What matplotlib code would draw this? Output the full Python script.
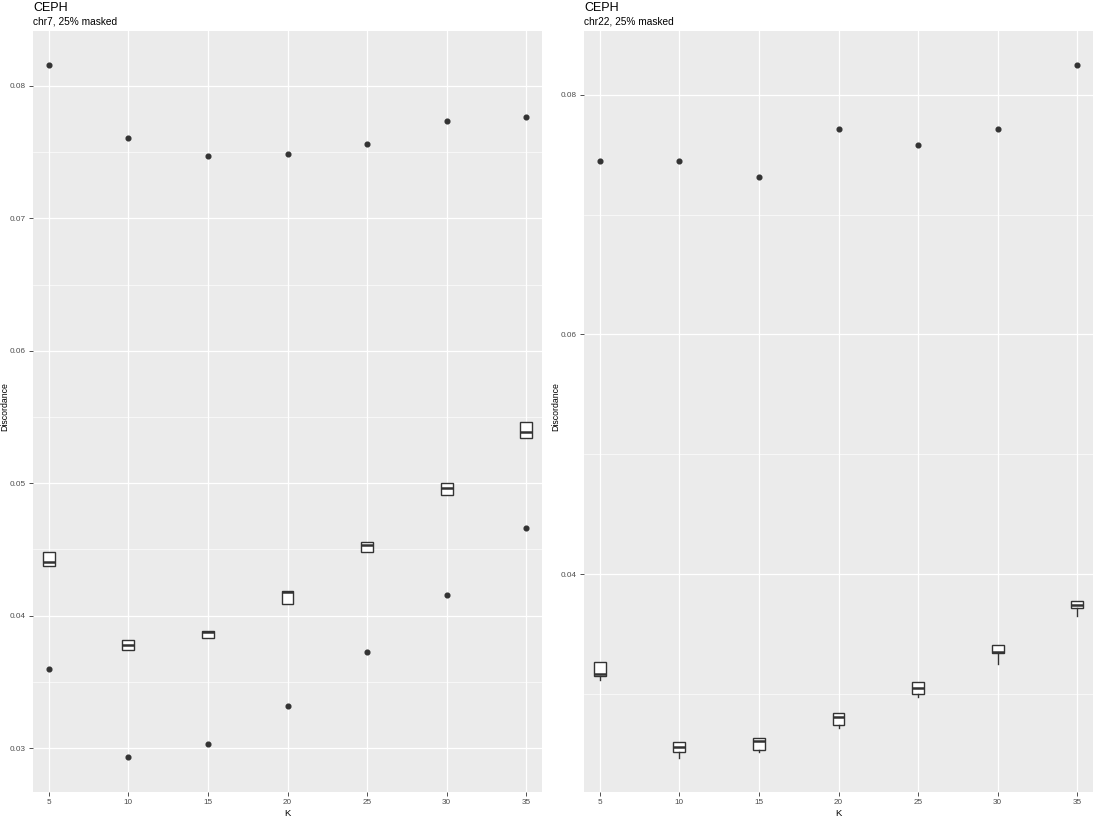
import matplotlib
matplotlib.use("Agg")
import matplotlib.pyplot as plt

# K values on the x axis
K = [5, 10, 15, 20, 25, 30, 35]

# chr7 panel: box stats plus two outliers per K
chr7_q1 = [0.04374, 0.03740, 0.03830, 0.04087, 0.04479, 0.04909, 0.05340]
chr7_med = [0.04404, 0.03777, 0.03875, 0.04177, 0.04532, 0.04962, 0.05385]
chr7_q3 = [0.04479, 0.03815, 0.03883, 0.04185, 0.04555, 0.05000, 0.05460]
chr7_out_hi = [0.08155, 0.07604, 0.07468, 0.07483, 0.07558, 0.07732, 0.07762]
chr7_out_lo = [0.03596, 0.02932, 0.03030, 0.03317, 0.03725, 0.04155, 0.04660]

# chr22 panel: box stats, lower whisker, one high outlier per K
chr22_q1 = [0.03148, 0.02514, 0.02530, 0.02739, 0.02998, 0.03340, 0.03716]
chr22_med = [0.03165, 0.02555, 0.02605, 0.02806, 0.03048, 0.03349, 0.03741]
chr22_q3 = [0.03265, 0.02597, 0.02630, 0.02839, 0.03098, 0.03407, 0.03775]
chr22_whislo = [0.03115, 0.02463, 0.02514, 0.02714, 0.02973, 0.03248, 0.03649]
chr22_out_hi = [0.07449, 0.07449, 0.07315, 0.07716, 0.07582, 0.07716, 0.08251]

chr7_yticks = [0.03, 0.04, 0.05, 0.06, 0.07, 0.08]
chr7_yminor = [0.035, 0.045, 0.055, 0.065, 0.075]
chr22_yticks = [0.04, 0.06, 0.08]
chr22_yminor = [0.03, 0.05, 0.07]

plt.rcParams["font.family"] = ["Liberation Sans", "DejaVu Sans"]

W, H = 1094, 817
fig = plt.figure(figsize=(W / 100, H / 100), dpi=100)

BOX_COL = "#333333"
TICK_COL = "#4D4D4D"


def make_stats(q1, med, q3, lo, hi, fliers):
    return [
        {"q1": a, "med": m, "q3": b, "whislo": l, "whishi": h, "fliers": f}
        for a, m, b, l, h, f in zip(q1, med, q3, lo, hi, fliers)
    ]


def draw_panel(px_left, px_right, ylab_x, stats, ylim, yticks, yminor, subtitle):
    ax = fig.add_axes([px_left / W, (H - 792) / H,
                       (px_right - px_left) / W, (792 - 31) / H])
    ax.set_facecolor("#EBEBEB")
    for s in ax.spines.values():
        s.set_visible(False)

    ax.set_xlim(4, 36)
    ax.set_ylim(*ylim)
    ax.set_xticks(K)
    ax.set_xticklabels([str(k) for k in K])
    ax.set_yticks(yticks)
    ax.set_yticklabels([f"{t:g}" for t in yticks])
    ax.set_yticks(yminor, minor=True)
    ax.tick_params(axis="both", which="major", length=3, width=0.6,
                   color=BOX_COL, labelcolor=TICK_COL, labelsize=5.9, pad=2)
    ax.tick_params(axis="y", which="minor", length=0)

    ax.grid(True, which="major", color="white", linewidth=0.9)
    ax.grid(True, which="minor", axis="y", color="white", linewidth=0.45)
    ax.set_axisbelow(True)

    ax.bxp(stats, positions=K, widths=0.75, showcaps=False, showfliers=True,
           patch_artist=True, manage_ticks=False,
           boxprops=dict(facecolor="white", edgecolor=BOX_COL, linewidth=1.0),
           medianprops=dict(color=BOX_COL, linewidth=1.8),
           whiskerprops=dict(color=BOX_COL, linewidth=1.0),
           flierprops=dict(marker="o", markersize=3.4, markerfacecolor=BOX_COL,
                           markeredgecolor=BOX_COL, linestyle="none"))

    fig.text(px_left / W, 1 - 11 / H, "CEPH", fontsize=9, color="black",
             ha="left", va="baseline")
    fig.text(px_left / W, 1 - 24 / H, subtitle, fontsize=7.3, color="black",
             ha="left", va="baseline")
    ax.set_xlabel("K", fontsize=6.8, labelpad=2)
    fig.text(ylab_x / W, 1 - 407 / H, "Discordance", fontsize=6.3,
             rotation=90, ha="center", va="center", color="black")
    return ax


stats7 = make_stats(chr7_q1, chr7_med, chr7_q3, chr7_q1, chr7_q3,
                    [[h, l] for h, l in zip(chr7_out_hi, chr7_out_lo)])
draw_panel(33, 542, 5, stats7, (0.02668, 0.08415), chr7_yticks, chr7_yminor,
           "chr7, 25% masked")

stats22 = make_stats(chr22_q1, chr22_med, chr22_q3, chr22_whislo, chr22_q3,
                     [[h] for h in chr22_out_hi])
draw_panel(584, 1093, 556, stats22, (0.0218, 0.08534), chr22_yticks,
           chr22_yminor, "chr22, 25% masked")

fig.savefig("out.png", dpi=100, facecolor="white")
